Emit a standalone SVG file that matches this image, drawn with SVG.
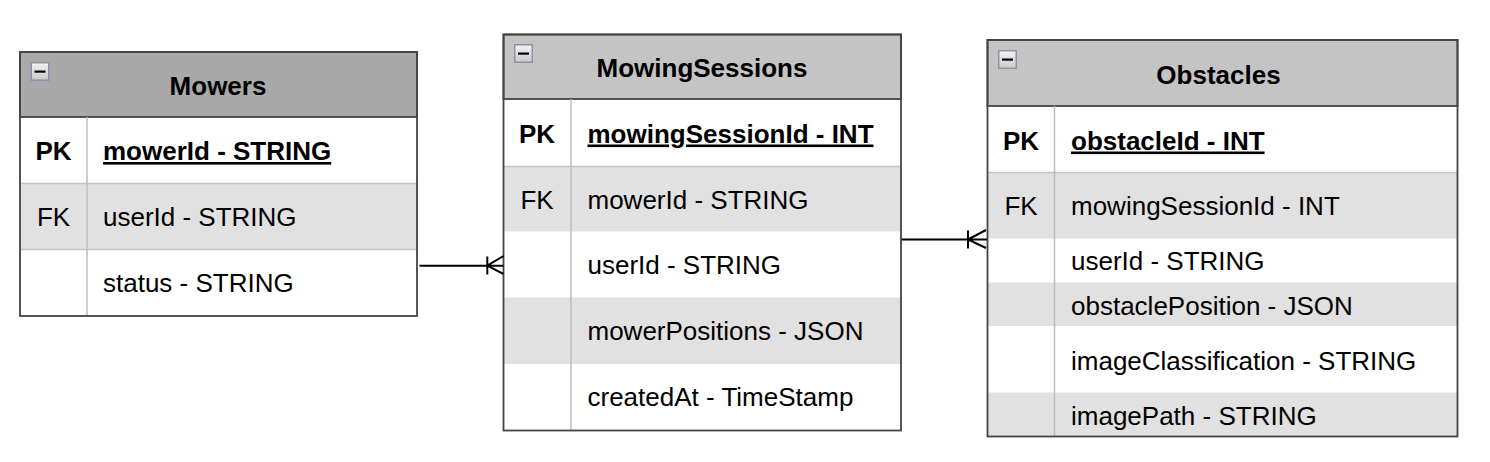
<svg xmlns="http://www.w3.org/2000/svg" width="1490" height="462" viewBox="0 0 1490 462">
<style>
text{font-family:"Liberation Sans",Arial,sans-serif;font-size:26px;fill:#000}
.h{font-weight:bold;text-anchor:middle}
.k{text-anchor:middle}
.kb{text-anchor:middle;font-weight:bold}
.pk{font-weight:bold;text-decoration:underline}
.alt{fill:#e1e1e1}
.sep{stroke:#c3c3c3;stroke-width:1.5;fill:none}
.col{stroke:#bdbdbd;stroke-width:1.5}
.box{fill:none;stroke:#444;stroke-width:1.8}
.hdr{stroke:#444;stroke-width:1.8}
.conn{stroke:#000;stroke-width:2;fill:none}
</style>
<defs>
<linearGradient id="ig" x1="0" y1="0" x2="0" y2="1">
<stop offset="0" stop-color="#f4f4f4"/><stop offset="1" stop-color="#c9c9c9"/>
</linearGradient>
<g id="icon">
<rect x="0.75" y="0.75" width="17.5" height="17.5" fill="url(#ig)" stroke="#8a93a8" stroke-width="1.5"/>
<rect x="4" y="8.5" width="11" height="2.2" fill="#000"/>
</g>
</defs>
<rect width="1490" height="462" fill="#fff"/>

<g id="mowers">
<rect x="20" y="52" width="397" height="264" fill="#fff"/>
<rect x="20" y="183.5" width="397" height="66" class="alt"/>
<rect class="hdr" x="20" y="52" width="397" height="65" fill="#a9a9a9"/>
<use href="#icon" x="30.5" y="62"/>
<text class="h" x="218" y="95">Mowers</text>
<line class="sep" x1="20" y1="183.5" x2="417" y2="183.5"/>
<line class="sep" x1="20" y1="249.5" x2="417" y2="249.5"/>
<line class="col" x1="87" y1="117" x2="87" y2="316"/>
<text class="kb" x="53.5" y="160">PK</text>
<text class="pk" x="103" y="160">mowerId - STRING</text>
<text class="k" x="53.5" y="226">FK</text>
<text x="103" y="226">userId - STRING</text>
<text x="103" y="292">status - STRING</text>
<rect class="box" x="20" y="52" width="397" height="264"/>
</g>

<g id="mowingSessions">
<rect x="503.5" y="34.5" width="397.5" height="396" fill="#fff"/>
<rect x="503.5" y="166.5" width="397.5" height="65" class="alt"/>
<rect x="503.5" y="297.5" width="397.5" height="66.5" class="alt"/>
<rect class="hdr" x="503.5" y="34.5" width="397.5" height="64.5" fill="#c4c4c4"/>
<use href="#icon" x="514" y="44"/>
<text class="h" x="702" y="77">MowingSessions</text>
<line class="sep" x1="503.5" y1="166.5" x2="901" y2="166.5"/>
<line class="col" x1="571" y1="99" x2="571" y2="430.5"/>
<text class="kb" x="537" y="142.5">PK</text>
<text class="pk" x="587.5" y="142.5">mowingSessionId - INT</text>
<text class="k" x="537" y="208.5">FK</text>
<text x="587.5" y="208.5">mowerId - STRING</text>
<text x="587.5" y="274">userId - STRING</text>
<text x="587.5" y="340">mowerPositions - JSON</text>
<text x="587.5" y="406">createdAt - TimeStamp</text>
<rect class="box" x="503.5" y="34.5" width="397.5" height="396"/>
</g>

<g id="obstacles">
<rect x="987.5" y="40" width="470" height="396.5" fill="#fff"/>
<rect x="987.5" y="172.5" width="470" height="66" class="alt"/>
<rect x="987.5" y="282.5" width="470" height="43.5" class="alt"/>
<rect x="987.5" y="392.5" width="470" height="44" class="alt"/>
<rect class="hdr" x="987.5" y="40" width="470" height="66" fill="#c4c4c4"/>
<use href="#icon" x="998" y="50"/>
<text class="h" x="1218.5" y="83.5">Obstacles</text>
<line class="sep" x1="987.5" y1="172.5" x2="1457.5" y2="172.5"/>
<line class="col" x1="1054.5" y1="106" x2="1054.5" y2="436.5"/>
<text class="kb" x="1021" y="149.5">PK</text>
<text class="pk" x="1071" y="149.5">obstacleId - INT</text>
<text class="k" x="1021" y="215">FK</text>
<text x="1071" y="215">mowingSessionId - INT</text>
<text x="1071" y="270">userId - STRING</text>
<text x="1071" y="314.5">obstaclePosition - JSON</text>
<text x="1071" y="369.5">imageClassification - STRING</text>
<text x="1071" y="424.5">imagePath - STRING</text>
<rect class="box" x="987.5" y="40" width="470" height="396.5"/>
</g>

<g id="connectors">
<path class="conn" d="M419.5 265.7 L503.5 265.7 M487.3 256.5 L487.3 274.5 M487.3 265.7 L503.5 256 M487.3 265.7 L503.5 274"/>
<path class="conn" d="M901.5 239.5 L987 239.5 M968 230.5 L968 248.5 M968 239.5 L986 230 M968 239.5 L986 248"/>
</g>
</svg>
